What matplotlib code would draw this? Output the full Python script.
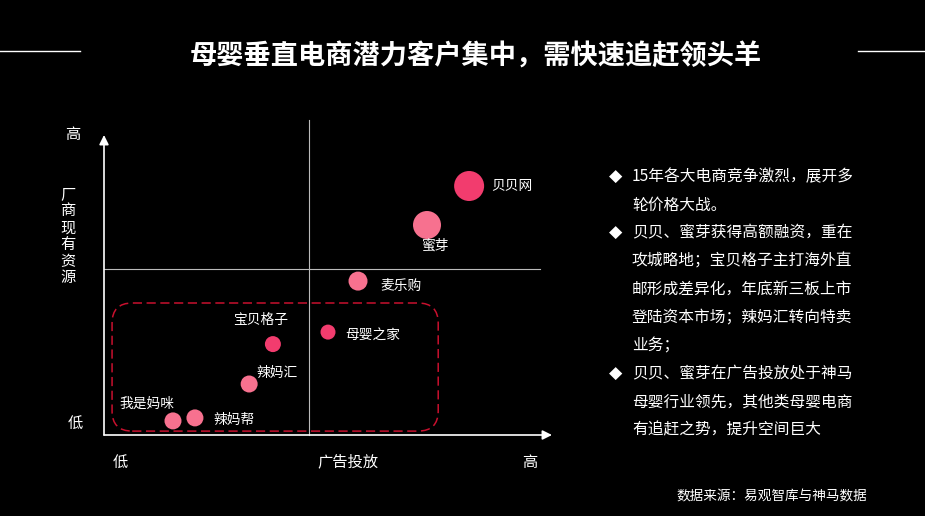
import matplotlib
matplotlib.use("Agg")
import matplotlib.pyplot as plt
from matplotlib.patches import FancyBboxPatch
from matplotlib.lines import Line2D

plt.rcParams['font.family'] = ['Noto Sans CJK SC', 'DejaVu Sans']

# ---- data ----
title = "母婴垂直电商潜力客户集中，需快速追赶领头羊"
names = ["贝贝网", "蜜芽", "麦乐购", "母婴之家", "宝贝格子", "辣妈汇", "辣妈帮", "我是妈咪"]
ad_spend = [81.5, 72.1, 56.7, 50.0, 37.7, 32.4, 20.3, 15.4]      # x: 广告投放 (0-100)
resources = [83.0, 70.0, 51.3, 34.3, 30.3, 17.0, 5.7, 4.7]       # y: 厂商现有资源 (0-100)
weight = [30, 28, 19, 15, 16, 17, 17, 17]                         # bubble size
highlight = [True, False, False, True, True, False, False, False]
x_mid = 45.8
y_mid = 55.3
x_label = "广告投放"
y_label = "厂商现有资源"
low_text, high_text = "低", "高"
bullets = [
    ["15年各大电商竞争激烈，展开多", "轮价格大战。"],
    ["贝贝、蜜芽获得高额融资，重在", "攻城略地；宝贝格子主打海外直",
     "邮形成差异化，年底新三板上市", "登陆资本市场；辣妈汇转向特卖", "业务；"],
    ["贝贝、蜜芽在广告投放处于神马", "母婴行业领先，其他类母婴电商", "有追赶之势，提升空间巨大"],
]
source = "数据来源：易观智库与神马数据"

W, H = 925, 516
fig = plt.figure(figsize=(W / 100, H / 100), dpi=100, facecolor='black')

def fx(px):
    return px / W

def fy(py):
    return 1 - py / H

# title and decorative lines
fig.text(fx(476), fy(57), title, color='white', fontsize=19.6, fontweight='bold',
         ha='center', va='center')
fig.add_artist(Line2D([fx(0), fx(80)], [fy(51), fy(51)], color='white', lw=1))
fig.add_artist(Line2D([fx(858), fx(925)], [fy(51), fy(51)], color='white', lw=1))

# chart axes
ax = fig.add_axes([fx(104), fy(435), 448 / W, 300 / H])
ax.set_facecolor('black')
ax.set_xlim(0, 100)
ax.set_ylim(0, 100)
ax.axis('off')

# quadrant lines
ax.plot([x_mid, x_mid], [0, 105], color='#BBBBBB', lw=0.8, clip_on=False)
ax.plot([0, 97.3], [y_mid, y_mid], color='#BBBBBB', lw=0.8, clip_on=False)

# axes arrows
ax.annotate('', xy=(100, 0), xytext=(0, 0),
            arrowprops=dict(arrowstyle='-|>', color='white', lw=1.2, mutation_scale=14,
                            shrinkA=0, shrinkB=0), annotation_clip=False)
ax.annotate('', xy=(0, 100), xytext=(0, 0),
            arrowprops=dict(arrowstyle='-|>', color='white', lw=1.2, mutation_scale=14,
                            shrinkA=0, shrinkB=0), annotation_clip=False)

# dashed rounded rectangle
rect = FancyBboxPatch((1.8, 1.3), 72.8, 42.7,
                      boxstyle="round,pad=0,rounding_size=4.5",
                      mutation_aspect=4.48 / 3,
                      fill=False, edgecolor='#C8102E', lw=1.1, linestyle=(0, (6, 3)),
                      clip_on=False)
ax.add_patch(rect)

# bubbles
colors = ['#F23C6E' if h else '#F7718F' for h in highlight]
sizes = [(w * 0.72) ** 2 for w in weight]
ax.scatter(ad_spend, resources, s=sizes, c=colors, edgecolors='none', zorder=3, clip_on=False)

# bubble labels (offsets in pixels)
offsets = {
    "贝贝网": (22, 0, 'left'),
    "蜜芽": (8, -21, 'center'),
    "麦乐购": (22, -5, 'left'),
    "母婴之家": (17, -4, 'left'),
    "宝贝格子": (-12, 24, 'center'),
    "辣妈汇": (28, 11, 'center'),
    "辣妈帮": (39, -2, 'center'),
    "我是妈咪": (-26, 17, 'center'),
}
for n, xv, yv in zip(names, ad_spend, resources):
    dx, dy, ha = offsets[n]
    ax.annotate(n, (xv, yv), xytext=(dx, dy), textcoords='offset pixels',
                color='white', fontsize=9.9, ha=ha, va='center', annotation_clip=False)

# axis labels
fig.text(fx(73), fy(135), high_text, color='white', fontsize=11, ha='center', va='center')
fig.text(fx(75), fy(423), low_text, color='white', fontsize=11, ha='center', va='center')
fig.text(fx(68), fy(236), "\n".join(y_label), color='white', fontsize=11,
         ha='center', va='center', linespacing=0.98)
fig.text(fx(120), fy(462), low_text, color='white', fontsize=11, ha='center', va='center')
fig.text(fx(348), fy(462), x_label, color='white', fontsize=11, ha='center', va='center')
fig.text(fx(530), fy(462), high_text, color='white', fontsize=11, ha='center', va='center')

# bullet text
y0 = 177
step = 28.1
i = 0
for block in bullets:
    for j, line in enumerate(block):
        ypx = y0 + i * step
        if j == 0:
            fig.text(fx(616), fy(ypx), "◆", color='white', fontsize=12.5,
                     ha='center', va='center', family=['DejaVu Sans'])
        fig.text(fx(632), fy(ypx), line, color='white', fontsize=11.3,
                 ha='left', va='center')
        i += 1

# source
fig.text(fx(867), fy(496), source, color='white', fontsize=9.8, ha='right', va='center')

fig.savefig("out.png", dpi=100, facecolor='black')
